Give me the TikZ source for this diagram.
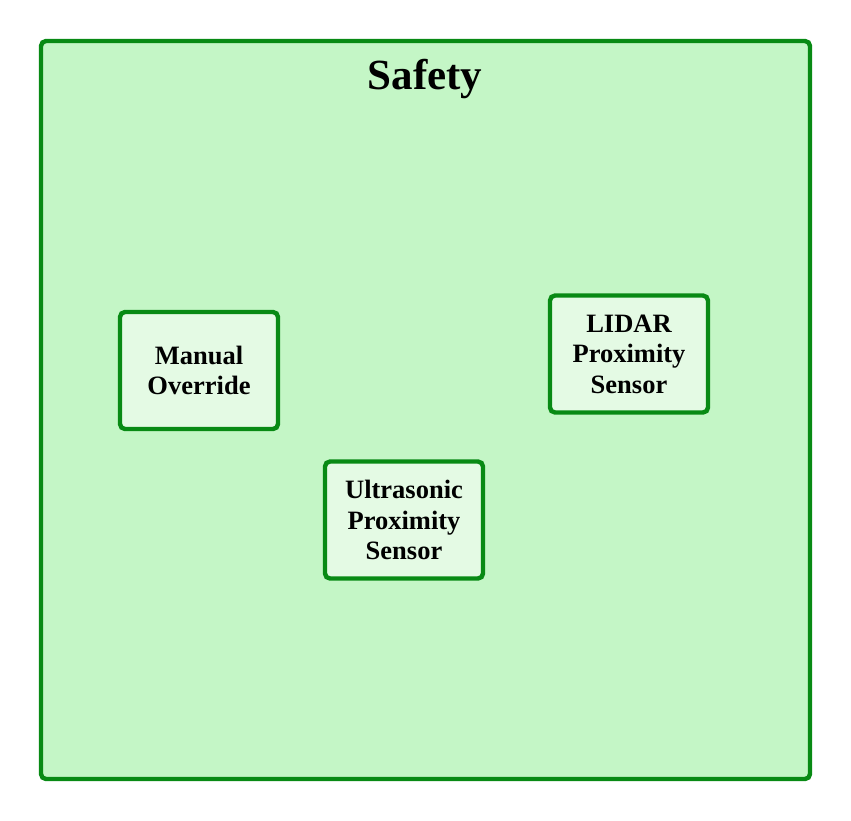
\documentclass[tikz,border=0pt]{standalone}
\usepackage{fontspec}
\setmainfont{Liberation Serif}
\usepackage{tikz}
\usetikzlibrary{positioning}
\definecolor{safeline}{RGB}{8,138,20}
\definecolor{safefill}{RGB}{196,246,198}
\definecolor{partfill}{RGB}{228,250,228}
\tikzset{
  group/.style  ={draw=safeline, fill=safefill, rounded corners=5pt,
                  line width=4.4pt},
  grouptitle/.style={font=\fontsize{43}{48}\selectfont\bfseries},
  part/.style   ={draw=safeline, fill=partfill, rounded corners=5pt,
                  line width=4.4pt, minimum width=158pt, minimum height=117pt,
                  align=center, inner sep=0pt,
                  font=\fontsize{26.5}{30.5}\selectfont\bfseries},
}
\begin{document}
\begin{tikzpicture}[x=1pt, y=-1pt]
\useasboundingbox (0,0) rectangle (851,820);
\node[group, minimum width=769pt, minimum height=738pt] (safety) at (425.5,410) {};
\node[grouptitle] (title) at (425,79) {Safety};
\node[part] (manual) at (199,370.5) {Manual\\Override};
\node[part] (lidar) at (629,354) {LIDAR\\Proximity\\Sensor};
\node[part] (ultra) at (404,520) {Ultrasonic\\Proximity\\Sensor};
\end{tikzpicture}
\end{document}
